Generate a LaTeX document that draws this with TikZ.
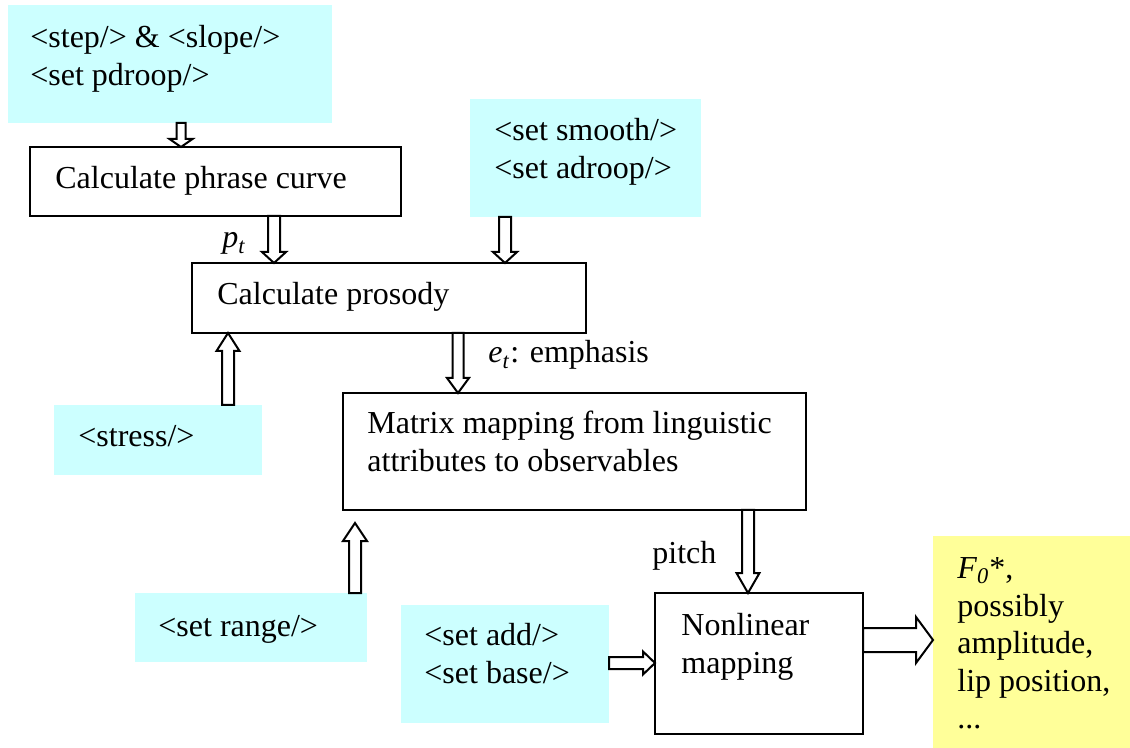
\documentclass[tikz,border=0pt]{standalone}
\usepackage{fontspec}
\setmainfont{Liberation Serif}
\usetikzlibrary{calc}

\definecolor{paleCyan}{HTML}{CCFFFF}
\definecolor{paleYellow}{HTML}{FFFF99}

% Hollow block arrow from #1 to #2: half shaft width #3, half head width #4, head length #5 (all pt)
\newcommand\hollowconn[5]{%
  \draw[hollow] let \p1=(#1), \p2=(#2),
    \n1={veclen(\x2-\x1,\y2-\y1)},
    \n2={(\x2-\x1)/\n1}, \n3={(\y2-\y1)/\n1},
    \n4={\n1-#5} in
    ({\x1-\n3*#3},{\y1+\n2*#3})
    -- ({\x1+\n2*\n4-\n3*#3},{\y1+\n3*\n4+\n2*#3})
    -- ({\x1+\n2*\n4-\n3*#4},{\y1+\n3*\n4+\n2*#4})
    -- (\p2)
    -- ({\x1+\n2*\n4+\n3*#4},{\y1+\n3*\n4-\n2*#4})
    -- ({\x1+\n2*\n4+\n3*#3},{\y1+\n3*\n4-\n2*#3})
    -- ({\x1+\n3*#3},{\y1-\n2*#3}) -- cycle;}

\begin{document}
\begin{tikzpicture}[x=0.5pt, y=-0.5pt,
  panel/.style={anchor=north west, inner sep=0pt, outer sep=0pt},
  tag/.style={panel, fill=paleCyan},
  stage/.style={panel, draw=black, line width=1.1pt, fill=white},
  result/.style={panel, fill=paleYellow},
  txt/.style={inner sep=0pt, font=\fontsize{16}{18.8}\selectfont},
  oneline/.style={txt, anchor=base west},
  multiline/.style={txt, anchor=north west, align=left},
  hollow/.style={draw=black, line width=1pt, line join=miter, fill=none}]

\useasboundingbox (0,0) rectangle (1130,748);

% boxes
\node[tag, minimum width=162pt, minimum height=59pt] (cyanA) at (8,5) {};
\node[stage, minimum width=185.5pt, minimum height=34.5pt] (phrase) at (30,147) {};
\node[tag, minimum width=115.5pt, minimum height=59pt] (cyanB) at (470,99) {};
\node[stage, minimum width=197pt, minimum height=35pt] (prosody) at (192,263) {};
\node[tag, minimum width=104pt, minimum height=35pt] (stress) at (54,405) {};
\node[stage, minimum width=231.5pt, minimum height=58.5pt] (matrix) at (343,393) {};
\node[tag, minimum width=116pt, minimum height=34.5pt] (range) at (135,593) {};
\node[tag, minimum width=104pt, minimum height=59pt] (addbase) at (401,605) {};
\node[stage, minimum width=104pt, minimum height=70.5pt] (nonlin) at (655,593) {};
\node[result, minimum width=98.5pt, minimum height=106pt] (output) at (933,536) {};

% texts
\node[multiline] (tA) at (30,20.7) {\strut<step/> \& <slope/>\\<set pdroop/>};
\node[oneline] (tPhrase) at (55,189) {Calculate phrase curve};
\node[multiline] (tB) at (494,113.7) {\strut<set smooth/>\\<set adroop/>};
\node[oneline] (tPt) at (222,248) {\textit{p}\textsubscript{\textit{t}}};
\node[oneline] (tProsody) at (217,305) {Calculate prosody};
\node[oneline] (tEt) at (488,363) {\textit{e}\textsubscript{\textit{t}}: emphasis};
\node[oneline] (tStress) at (78,447) {<stress/>};
\node[multiline] (tMatrix) at (367,406.7) {\strut Matrix mapping from linguistic\\attributes to observables};
\node[oneline] (tPitch) at (652,563) {pitch};
\node[oneline] (tRange) at (158,636) {<set range/>};
\node[multiline] (tAdd) at (424,618.7) {\strut<set add/>\\<set base/>};
\node[multiline] (tNon) at (681,608.7) {\strut Nonlinear\\mapping};
\node[multiline] (tOut) at (957,551.7) {\strut\textit{F}\textsubscript{\textit{0}}*,\\possibly\\amplitude,\\lip position,\\...};

% arrow axes
\coordinate (xA) at (181,0);
\coordinate (xPt) at (274,0);
\coordinate (xB) at (505,0);
\coordinate (xStress) at (228,0);
\coordinate (xEt) at (458,0);
\coordinate (xRange) at (355,0);
\coordinate (xPitch) at (748,0);
\coordinate (yAdd) at (0,663);
\coordinate (yOut) at (0,640);

% connectors
\hollowconn{cyanA.south -| xA}{phrase.north -| xA}{2.25}{5.75}{4}
\hollowconn{phrase.south -| xPt}{prosody.north -| xPt}{3}{6}{5.5}
\hollowconn{cyanB.south -| xB}{prosody.north -| xB}{3}{6}{5.5}
\hollowconn{stress.north -| xStress}{prosody.south -| xStress}{3}{5.75}{9}
\hollowconn{prosody.south -| xEt}{matrix.north -| xEt}{2.75}{5.5}{7.5}
\hollowconn{range.north -| xRange}{$(matrix.south -| xRange)+(0,13)$}{3}{6}{9}
\hollowconn{matrix.south -| xPitch}{nonlin.north -| xPitch}{3}{5.75}{10}
\hollowconn{addbase.east |- yAdd}{nonlin.west |- yAdd}{3}{5.75}{6}
\hollowconn{nonlin.east |- yOut}{output.west |- yOut}{6}{11.5}{8.5}

\end{tikzpicture}
\end{document}
